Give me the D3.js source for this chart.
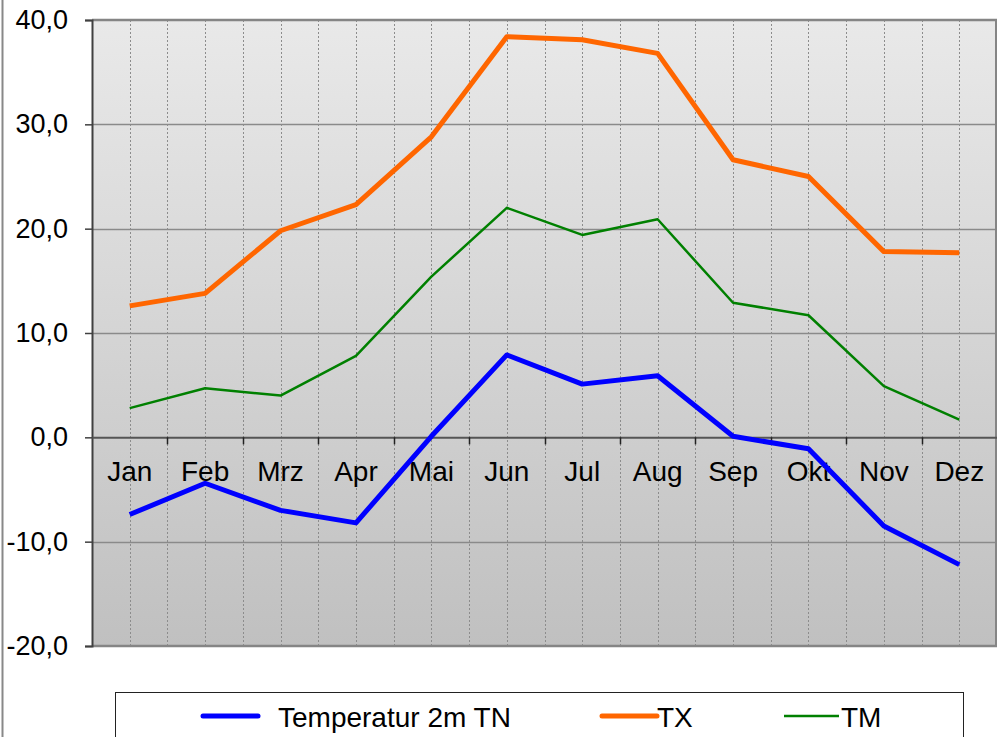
<html>

<head>
    <meta charset="utf-8" />
    <script src="https://cdn.jsdelivr.net/npm/d3@7"></script>
    <style>
        body { margin: 0; background: #fff; }
        text { font-family: "Liberation Sans", Arial, sans-serif; }
    </style>
</head>

<body>
    <script>
        var width = 997;
        var height = 737;
        var plot = { left: 92, right: 997, top: 20, bottom: 646 };

        var months = ['Jan', 'Feb', 'Mrz', 'Apr', 'Mai', 'Jun', 'Jul', 'Aug', 'Sep', 'Okt', 'Nov', 'Dez'];
        var tn = [-7.4, -4.4, -7.0, -8.2, 0.1, 7.9, 5.1, 5.9, 0.1, -1.1, -8.5, -12.2];
        var tx = [12.6, 13.8, 19.8, 22.3, 28.8, 38.4, 38.1, 36.8, 26.6, 25.0, 17.8, 17.7];
        var tm = [2.8, 4.7, 4.0, 7.8, 15.4, 22.0, 19.4, 20.9, 12.9, 11.7, 4.9, 1.7];
        var yTicks = [-20, -10, 0, 10, 20, 30, 40];

        var svg = d3.select('body')
            .append('svg')
            .attr('width', width)
            .attr('height', height);

        var x = d3.scaleBand()
            .domain(months)
            .range([plot.left, plot.right]);
        var y = d3.scaleLinear()
            .domain([-20, 40])
            .range([plot.bottom, plot.top]);
        var cx = function (m) { return x(m) + x.bandwidth() / 2; };

        // outer frame line at the very left
        svg.append('line')
            .attr('x1', 2.5).attr('x2', 2.5)
            .attr('y1', 0).attr('y2', height)
            .attr('stroke', '#888').attr('stroke-width', 2);

        // background gradient
        var grad = svg.append('defs').append('linearGradient')
            .attr('id', 'bg')
            .attr('x1', 0).attr('y1', 0).attr('x2', 0).attr('y2', 1);
        grad.append('stop').attr('offset', '0%').attr('stop-color', '#e9e9e9');
        grad.append('stop').attr('offset', '100%').attr('stop-color', '#c0c0c0');

        svg.append('rect')
            .attr('x', plot.left)
            .attr('y', plot.top)
            .attr('width', plot.right - plot.left)
            .attr('height', plot.bottom - plot.top)
            .attr('fill', 'url(#bg)');

        // vertical dashed gridlines at centres and boundaries
        var vlines = [];
        months.forEach(function (m, i) {
            if (i > 0) vlines.push(x(m));
            vlines.push(cx(m));
        });
        svg.selectAll('line.vgrid')
            .data(vlines)
            .enter()
            .append('line')
            .attr('class', 'vgrid')
            .attr('x1', function (d) { return Math.round(d) + 0.5; })
            .attr('x2', function (d) { return Math.round(d) + 0.5; })
            .attr('y1', plot.top)
            .attr('y2', plot.bottom)
            .attr('stroke', '#8c8c8c')
            .attr('stroke-width', 1)
            .attr('stroke-dasharray', '2,2');

        // horizontal gridlines
        svg.selectAll('line.hgrid')
            .data(yTicks.filter(function (d) { return d != 0 && d != -20 && d != 40; }))
            .enter()
            .append('line')
            .attr('class', 'hgrid')
            .attr('x1', plot.left)
            .attr('x2', plot.right)
            .attr('y1', function (d) { return Math.round(y(d)) + 0.5; })
            .attr('y2', function (d) { return Math.round(y(d)) + 0.5; })
            .attr('stroke', '#8a8a8a')
            .attr('stroke-width', 1.5);

        // plot frame
        svg.append('line')
            .attr('x1', plot.left).attr('x2', plot.right)
            .attr('y1', plot.top).attr('y2', plot.top)
            .attr('stroke', '#858585').attr('stroke-width', 2.5);
        svg.append('line')
            .attr('x1', plot.left).attr('x2', plot.right)
            .attr('y1', plot.bottom).attr('y2', plot.bottom)
            .attr('stroke', '#858585').attr('stroke-width', 2.5);
        svg.append('line')
            .attr('x1', plot.right - 1).attr('x2', plot.right - 1)
            .attr('y1', plot.top).attr('y2', plot.bottom)
            .attr('stroke', '#858585').attr('stroke-width', 2);

        // y axis
        var yAxis = svg.append('g')
            .attr('transform', 'translate(' + plot.left + ',0)')
            .call(d3.axisLeft(y)
                .tickValues(yTicks)
                .tickSize(7)
                .tickPadding(17)
                .tickFormat(function (d) { return d3.format('.1f')(d).replace('.', ',').replace('\u2212', '-'); }));
        yAxis.select('.domain').attr('stroke', '#404040').attr('stroke-width', 2);
        yAxis.selectAll('.tick line').attr('stroke', '#404040').attr('stroke-width', 1.5);
        yAxis.selectAll('text')
            .attr('font-size', 27)
            .attr('fill', '#000')
            .style('font-family', '"Liberation Sans", Arial, sans-serif');

        // x axis on zero line
        var xAxis = svg.append('g')
            .attr('transform', 'translate(0,' + y(0) + ')')
            .call(d3.axisBottom(x).tickSize(0).tickPadding(24));
        xAxis.select('.domain').attr('stroke', '#555').attr('stroke-width', 2);
        xAxis.selectAll('text')
            .attr('font-size', 28)
            .attr('fill', '#000')
            .style('font-family', '"Liberation Sans", Arial, sans-serif');
        svg.selectAll('line.xtick')
            .data(months.slice(1))
            .enter()
            .append('line')
            .attr('class', 'xtick')
            .attr('x1', function (d) { return Math.round(x(d)) + 0.5; })
            .attr('x2', function (d) { return Math.round(x(d)) + 0.5; })
            .attr('y1', y(0))
            .attr('y2', y(0) + 7)
            .attr('stroke', '#222')
            .attr('stroke-width', 1.5);

        // series lines
        var series = [
            { name: 'Temperatur 2m TN', values: tn, color: '#0000ff', w: 5 },
            { name: 'TX', values: tx, color: '#ff6600', w: 5 },
            { name: 'TM', values: tm, color: '#008000', w: 2.5 }
        ];
        var line = d3.line()
            .x(function (d, i) { return cx(months[i]); })
            .y(function (d) { return y(d); });

        svg.selectAll('path.series')
            .data(series.slice().reverse())
            .enter()
            .append('path')
            .attr('class', 'series')
            .attr('d', function (s) { return line(s.values); })
            .attr('fill', 'none')
            .attr('stroke', function (s) { return s.color; })
            .attr('stroke-width', function (s) { return s.w; })
            .attr('stroke-linejoin', 'round');

        // legend
        svg.append('rect')
            .attr('x', 115.5)
            .attr('y', 692.5)
            .attr('width', 848)
            .attr('height', 60)
            .attr('fill', '#fff')
            .attr('stroke', '#222')
            .attr('stroke-width', 1);

        var legendPos = [
            { lx: 203, tx: 278 },
            { lx: 602, tx: 657 },
            { lx: 784, tx: 841 }
        ];
        series.forEach(function (s, i) {
            var p = legendPos[i];
            svg.append('line')
                .attr('x1', p.lx).attr('x2', p.lx + 55)
                .attr('y1', 716).attr('y2', 716)
                .attr('stroke', s.color)
                .attr('stroke-width', s.w)
                .attr('stroke-linecap', s.w > 3 ? 'round' : 'butt');
            svg.append('text')
                .attr('x', p.tx)
                .attr('y', 727)
                .attr('font-size', 28)
                .attr('fill', '#000')
                .text(s.name);
        });
    </script>
</body>

</html>
